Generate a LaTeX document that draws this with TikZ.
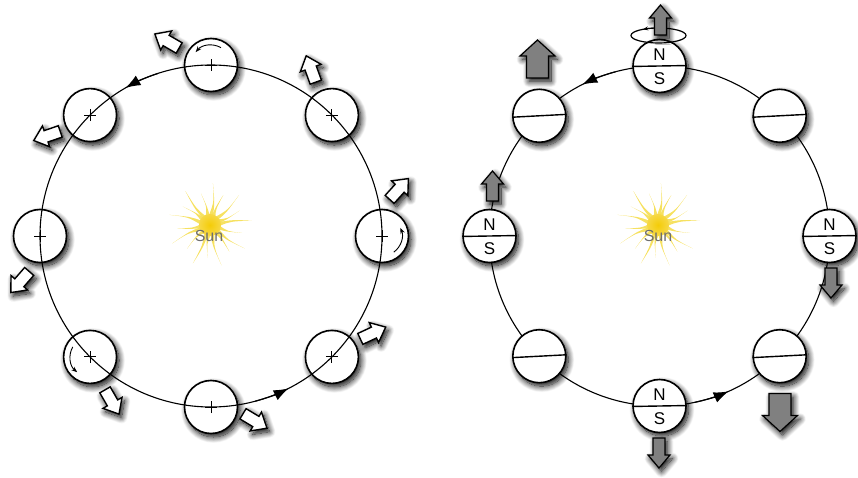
\documentclass[tikz,border=0pt]{standalone}
\usepackage{fontspec}
\setmainfont{Liberation Sans}
\usetikzlibrary{calc,arrows.meta,shadows.blur}

\definecolor{raycol}{HTML}{F5DC45}
\definecolor{suncore}{HTML}{F4CC08}
\definecolor{suntext}{HTML}{6E6E6E}
\definecolor{axisgray}{HTML}{808080}

\tikzset{
  soft shadow/.style={blur shadow={shadow xshift=2.5pt, shadow yshift=-3.5pt,
      shadow blur radius=6pt, shadow blur steps=14, shadow opacity=100}},
  planet/.style={circle, draw=black, line width=1.6pt, fill=white,
      minimum size=53pt, inner sep=0pt, soft shadow},
  orbit/.style={line width=1.1pt},
  orbittip/.style={-{Latex[length=15pt,width=11pt]}, line width=1.1pt},
  spin/.style={line width=0.9pt, -{Stealth[length=6pt,width=4.5pt]}},
  plus/.style={line width=0.9pt},
  divider/.style={line width=1.4pt},
  pole/.style={font=\fontsize{17}{17}\selectfont, inner sep=0pt},
  sunlabel/.style={font=\fontsize{16}{16}\selectfont, text=suntext, inner sep=0pt},
  spinaxis/.pic={\draw[line width=1.4pt, fill=white, line join=miter, soft shadow]
      (-14,-6) -- (1,-6) -- (1,-11) -- (14,0) -- (1,11) -- (1,6) -- (-14,6) -- cycle;},
  smallpole/.pic={\draw[line width=1.2pt, fill=axisgray, soft shadow]
      (-6,-15) -- (-6,2) -- (-11,2) -- (0,15) -- (11,2) -- (6,2) -- (6,-15) -- cycle;},
  smallpoledown/.pic={\draw[line width=1.2pt, fill=axisgray, soft shadow]
      (-6,15) -- (-6,-2) -- (-11,-2) -- (0,-15) -- (11,-2) -- (6,-2) -- (6,15) -- cycle;},
  bigpole/.pic={\draw[line width=1.2pt, fill=axisgray, soft shadow]
      (-11,-19) -- (-11,3) -- (-17.5,3) -- (0,19) -- (17.5,3) -- (11,3) -- (11,-19) -- cycle;},
  bigpoledown/.pic={\draw[line width=1.2pt, fill=axisgray, soft shadow]
      (-11,19) -- (-11,-3) -- (-17.5,-3) -- (0,-19) -- (17.5,-3) -- (11,-3) -- (11,19) -- cycle;},
}

% a sun made of tapered, slightly bent rays round a glowing disk
\newcommand\sunburst[1]{%
  \foreach \i in {0,...,17} {
    \pgfmathsetmacro\a{\i*20+6}
    \pgfmathsetmacro\l{mod(\i,2)==0 ? 42 : 33}
    \pgfmathsetmacro\b{mod(\i,3)==0 ? 7 : -6}
    \fill[raycol, opacity=.85]
      ($(#1)+(\a+13:9)$) .. controls ($(#1)+(\a+\b:\l*0.55)$) ..
      ($(#1)+(\a:\l)$) .. controls ($(#1)+(\a+\b-3:\l*0.5)$) ..
      ($(#1)+(\a-13:9)$) -- cycle;
  }
  \shade[inner color=suncore, outer color=suncore!75!white] (#1) circle (11);
}

\begin{document}
\begin{tikzpicture}[x=1pt, y=1pt]
\useasboundingbox (0,0) rectangle (858,477);

% ---------------- left: spin axis fixed in the orbit plane ----------------
\coordinate (LC) at (211,241);
\coordinate (LS) at (210,252);
\sunburst{LS}
\node[sunlabel] (Lsun) at (209,241) {Sun};

\foreach \k/\ang in {0/0,1/45,2/90,3/135,4/180,5/225,6/270,7/315}
  \node[planet] (L\k) at ([shift={(\ang:171)}]LC) {};

\draw[orbit] (LC) circle (171);
\draw[orbittip] ([shift={(108:171)}]LC) arc[start angle=108, end angle=120, radius=171];
\draw[orbittip] ([shift={(-75:171)}]LC) arc[start angle=-75, end angle=-63, radius=171];

\foreach \k in {0,...,7}
  \draw[plus] ([xshift=-6pt]L\k.center) -- ([xshift=6pt]L\k.center)
              ([yshift=-6pt]L\k.center) -- ([yshift=6pt]L\k.center);

\draw[spin] ([shift={(60:20)}]L2.center) arc[start angle=60, end angle=140, radius=20];
\draw[spin] ([shift={(-54:20)}]L0.center) arc[start angle=-54, end angle=24, radius=20];
\draw[spin] ([shift={(150:20)}]L5.center) arc[start angle=150, end angle=230, radius=20];

\pic[rotate=150] at (167,436) {spinaxis};
\pic[rotate=110] at (311,408) {spinaxis};
\pic[rotate=48]  at (399,288) {spinaxis};
\pic[rotate=25]  at (373,144) {spinaxis};
\pic[rotate=-31] at (255,56)  {spinaxis};
\pic[rotate=-60] at (112,75)  {spinaxis};
\pic[rotate=229] at (20,195)  {spinaxis};
\pic[rotate=199] at (47,341)  {spinaxis};

% ---------------- right: magnetic poles round the orbit ----------------
\coordinate (RC) at (659.5,241);
\coordinate (RS) at (658,252);
\sunburst{RS}
\node[sunlabel] (Rsun) at (658,241) {Sun};

\draw[orbit] (RC) circle (170);
\draw[orbittip] ([shift={(105:170)}]RC) arc[start angle=105, end angle=117, radius=170];
\draw[orbittip] ([shift={(-78:170)}]RC) arc[start angle=-78, end angle=-66, radius=170];

\foreach \k/\ang in {0/0,1/45,2/90,3/135,4/180,5/225,6/270,7/315}
  \node[planet] (R\k) at ([shift={(\ang:170)}]RC) {};

\foreach \k in {0,2,4,6} {
  \draw[divider] (R\k.181.5) -- (R\k.1.5);
  \node[pole] (R\k n) at ([yshift=11pt]R\k.center) {N};
  \node[pole] (R\k s) at ([yshift=-13pt]R\k.center) {S};
}
\foreach \k in {1,3,5,7}
  \draw[divider] (R\k.183) -- (R\k.3);

\coordinate (E) at (658.5,441.5);
\draw[line width=1.2pt] (E) ellipse[x radius=27.5, y radius=7.5];
\draw[line width=1pt, -{Stealth[length=5pt,width=4pt]}]
  ($(E)+({27.5*cos(98)},{7.5*sin(98)})$) arc[start angle=98, end angle=124, x radius=27.5, y radius=7.5];
\pic at (660.5,457) {smallpole};

\pic at (537.5,418) {bigpole};
\pic at (492.5,291) {smallpole};
\pic at (831,194)   {smallpoledown};
\pic at (659,24)    {smallpoledown};
\pic at (780,64.5)  {bigpoledown};

\end{tikzpicture}
\end{document}
